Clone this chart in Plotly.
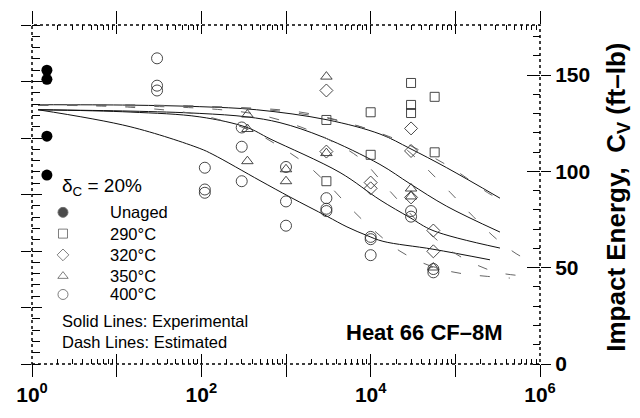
import plotly.graph_objects as go

# ---------------- data (aging time h, impact energy ft-lb) ----------------
UNAGED_X = [1.5, 1.5, 1.5, 1.5]
UNAGED_Y = [152.5, 147.8, 118.3, 98.1]

T290_X = [3000, 3000, 10000, 10000, 30000, 30000, 30000, 57000, 57000]
T290_Y = [126.7, 94.9, 130.7, 108.6, 145.9, 134.5, 130.3, 138.7, 109.9]

T320_X = [3000, 3000, 10000, 10000, 30000, 30000, 30000, 55000, 55000]
T320_Y = [142.0, 110.3, 94.2, 91.2, 122.3, 110.6, 86.5, 69.3, 58.5]

T350_X = [350, 350, 350, 1000, 1000, 3000, 3000, 30000, 30000, 55000]
T350_Y = [129.5, 122.0, 105.3, 101.1, 94.9, 149.2, 109.5, 91.1, 87.0, 50.1]

T400_X = [30, 30, 30, 110, 110, 110, 300, 300, 300, 1000, 1000, 1000,
          3000, 3000, 3000, 10000, 10000, 10000, 30000, 30000, 55000, 55000]
T400_Y = [158.7, 144.5, 142.0, 101.9, 90.6, 88.9, 122.8, 112.8, 94.9, 102.3, 84.4, 71.8,
          86.1, 80.6, 79.4, 66.0, 64.8, 56.5, 79.4, 76.5, 49.3, 47.6]

# solid (experimental) curves
S290_X = [1.18, 14.4, 96, 450, 3050, 12880, 29110, 79070, 336600]
S290_Y = [134.6, 134.4, 133.6, 132.0, 126.8, 119.4, 111.9, 101.9, 86.1]
S320_X = [1.18, 14.4, 96, 346, 849, 2735, 12880, 29110, 79070, 336600]
S320_Y = [132.0, 131.3, 130.1, 128.3, 125.3, 117.8, 103.6, 93.6, 81.9, 68.5]
S350_X = [1.18, 14.4, 96, 346, 647, 4345, 12880, 29110, 54450, 336600]
S350_Y = [132.0, 130.8, 128.3, 122.8, 116.9, 99.4, 85.2, 76.0, 69.3, 60.2]
S400_X = [1.18, 14.4, 96, 137, 493, 1114, 3050, 5248, 9057, 13960, 54450, 256600]
S400_Y = [132.0, 123.2, 111.9, 108.8, 95.2, 86.7, 76.7, 71.2, 66.7, 63.7, 59.6, 54.1]

# dashed (estimated) curves
D290_X = [1.18, 96, 1462, 6180, 22190, 86480, 256600, 336600]
D290_Y = [134.6, 133.8, 130.8, 124.3, 115.8, 102.3, 88.2, 85.7]
D320_X = [1.18, 96, 849, 3311, 7480, 16900, 29110, 46240, 86480, 161500, 310400, 580700, 762000]
D320_Y = [134.6, 133.8, 131.3, 127.3, 123.3, 117.3, 109.8, 101.3, 89.2, 76.7, 64.7, 56.1, 54.1]
D350_X = [1.18, 96, 493, 1770, 3589, 7480, 16900, 41500, 79640, 157300, 310400, 701800]
D350_Y = [134.3, 132.8, 129.3, 121.8, 115.3, 106.8, 89.7, 71.2, 60.2, 52.6, 47.6, 45.6]
D400_X = [1.18, 14.4, 96, 376, 849, 1770, 3311, 5700, 9820, 22190, 52970, 113500, 224000, 441600]
D400_Y = [134.3, 133.3, 129.3, 121.3, 112.8, 103.3, 92.2, 81.2, 71.2, 58.6, 50.6, 47.1, 45.6, 44.6]

LEGEND_LABELS = ["Unaged", "290°C", "320°C", "350°C", "400°C"]
LEGEND_SYMBOLS = ["circle", "square-open", "diamond-open", "triangle-up-open", "circle-open"]

X_DECADES = [1, 10, 100, 1e3, 1e4, 1e5, 1e6]
X_LABELS = ["<b>10<sup>0</sup></b>", "", "<b>10<sup>2</sup></b>", "",
            "<b>10<sup>4</sup></b>", "", "<b>10<sup>6</sup></b>"]
X_MINOR = [m * 10 ** k for k in range(6) for m in range(2, 10)]
Y_TICKS = [0, 50, 100, 150]
Y_LABELS = ["<b>0</b>", "<b>50</b>", "<b>100</b>", "<b>150</b>"]

# ---------------- style ----------------
FONT = "Liberation Sans, Arial, Helvetica, sans-serif"
MK = "#333333"
LEG_X = 0.061
LEG_Y = [0.4473, 0.3846, 0.3219, 0.2593, 0.2051]
LEG_TX = 0.1496
LEG_FS = 16.5

fig = go.Figure()

for xs, ys in [(S290_X, S290_Y), (S320_X, S320_Y), (S350_X, S350_Y), (S400_X, S400_Y)]:
    fig.add_trace(go.Scatter(x=xs, y=ys, mode="lines",
                             line=dict(color="#111111", width=1, shape="spline", smoothing=1.0),
                             hoverinfo="skip"))
for xs, ys in [(D290_X, D290_Y), (D320_X, D320_Y), (D350_X, D350_Y), (D400_X, D400_Y)]:
    fig.add_trace(go.Scatter(x=xs, y=ys, mode="lines",
                             line=dict(color="#666666", width=1, dash="10px,19px",
                                       shape="spline", smoothing=1.0),
                             hoverinfo="skip"))

def pts(xs, ys, sym, size, color):
    fig.add_trace(go.Scatter(x=xs, y=ys, mode="markers",
                             marker=dict(symbol=sym, size=size, color=color,
                                         line=dict(color=MK, width=0.9))))

fig.add_trace(go.Scatter(x=UNAGED_X, y=UNAGED_Y, mode="markers",
                         marker=dict(symbol="circle", size=11, color="black")))
pts(T290_X, T290_Y, "square-open", 9, MK)
pts(T320_X, T320_Y, "diamond-open", 10, MK)
pts(T350_X, T350_Y, "triangle-up-open", 10, MK)
pts(T400_X, T400_Y, "circle-open", 11, MK)

# manual legend symbols (overlay axis in plot fractions)
fig.add_trace(go.Scatter(x=[LEG_X] * 5, y=LEG_Y, mode="markers", xaxis="x2", yaxis="y3",
                         marker=dict(symbol=LEGEND_SYMBOLS, size=[10, 9, 9, 9, 10],
                                     color=["black", MK, MK, MK, MK],
                                     line=dict(color=MK, width=0.9))))

# empty traces to instantiate overlay tick axes
for xa, ya in [("x", "y2"), ("x", "y4"), ("x", "y5"), ("x3", "y"), ("x4", "y"), ("x5", "y")]:
    fig.add_trace(go.Scatter(x=[], y=[], xaxis=xa, yaxis=ya, mode="markers", hoverinfo="skip"))

common = dict(showgrid=False, zeroline=False, showline=False, tickcolor="black", tickwidth=1)
xlog = dict(type="log", range=[0, 6], **common)

fig.update_layout(
    width=640, height=418,
    margin=dict(l=32, r=100, t=19, b=48),
    paper_bgcolor="white", plot_bgcolor="white",
    showlegend=False,
    font=dict(family=FONT, color="black"),
    xaxis=dict(**xlog, tickvals=X_DECADES, ticktext=X_LABELS, ticks="outside", ticklen=12,
               tickfont=dict(size=21, family=FONT),
               minor=dict(ticks="inside", ticklen=5, tickvals=X_MINOR, tickcolor="black")),
    xaxis3=dict(**xlog, overlaying="x", side="top", anchor="y", tickvals=X_DECADES,
                ticks="outside", ticklen=13, showticklabels=False,
                minor=dict(ticks="inside", ticklen=5, tickvals=X_MINOR, tickcolor="black")),
    xaxis4=dict(**xlog, overlaying="x", side="bottom", anchor="y", tickvals=X_DECADES,
                ticks="inside", ticklen=10, showticklabels=False),
    xaxis5=dict(**xlog, overlaying="x", side="top", anchor="y", tickvals=X_DECADES,
                ticks="inside", ticklen=9, showticklabels=False),
    xaxis2=dict(overlaying="x", range=[0, 1], visible=False, anchor="y3"),
    yaxis=dict(**common, side="right", range=[0, 176], tickvals=Y_TICKS, ticktext=Y_LABELS,
               ticks="outside", ticklen=10, tickfont=dict(size=21, family=FONT),
               minor=dict(ticks="inside", ticklen=7, dtick=10, tickcolor="black")),
    yaxis2=dict(**common, overlaying="y", side="right", anchor="x", range=[0, 176],
                tickvals=Y_TICKS, ticks="inside", ticklen=13, showticklabels=False),
    yaxis4=dict(**common, overlaying="y", side="left", anchor="x", range=[0, 300], dtick=50,
                ticks="outside", ticklen=10, showticklabels=False,
                minor=dict(ticks="inside", ticklen=8, dtick=10, tickcolor="black")),
    yaxis5=dict(**common, overlaying="y", side="left", anchor="x", range=[0, 300], dtick=50,
                ticks="inside", ticklen=10, showticklabels=False),
    yaxis3=dict(overlaying="y", range=[0, 1], visible=False, anchor="x2"),
    shapes=[dict(type="rect", xref="paper", yref="paper", x0=0, x1=1, y0=0, y1=1,
                 line=dict(color="black", width=1.5, dash="dot"), layer="above")],
)

ann = []
for lab, yy in zip(LEGEND_LABELS, LEG_Y):
    ann.append(dict(text=lab, x=LEG_TX, y=yy, xref="paper", yref="paper", xanchor="left",
                    yanchor="middle", showarrow=False, font=dict(size=LEG_FS, family=FONT)))
ann += [
    dict(text="δ<sub>C</sub> = 20%", x=0.0551, y=0.5214, xref="paper", yref="paper",
         xanchor="left", yanchor="middle", showarrow=False, font=dict(size=19, family=FONT)),
    dict(text="Solid Lines: Experimental", x=0.0551, y=0.1254, xref="paper", yref="paper",
         xanchor="left", yanchor="middle", showarrow=False, font=dict(size=LEG_FS, family=FONT)),
    dict(text="Dash Lines: Estimated", x=0.0551, y=0.0655, xref="paper", yref="paper",
         xanchor="left", yanchor="middle", showarrow=False, font=dict(size=LEG_FS, family=FONT)),
    dict(text="<b>Heat 66 CF–8M</b>", x=0.7736, y=0.094, xref="paper", yref="paper",
         xanchor="center", yanchor="middle", showarrow=False, font=dict(size=22, family=FONT)),
    dict(text="<b>Impact Energy,  C<sub>V</sub> (ft–lb)</b>", x=1.152, y=0.491, xref="paper",
         yref="paper", xanchor="center", yanchor="middle", textangle=-90, showarrow=False,
         font=dict(size=26, family=FONT)),
]
fig.update_layout(annotations=ann)

fig.write_html("out.html")
